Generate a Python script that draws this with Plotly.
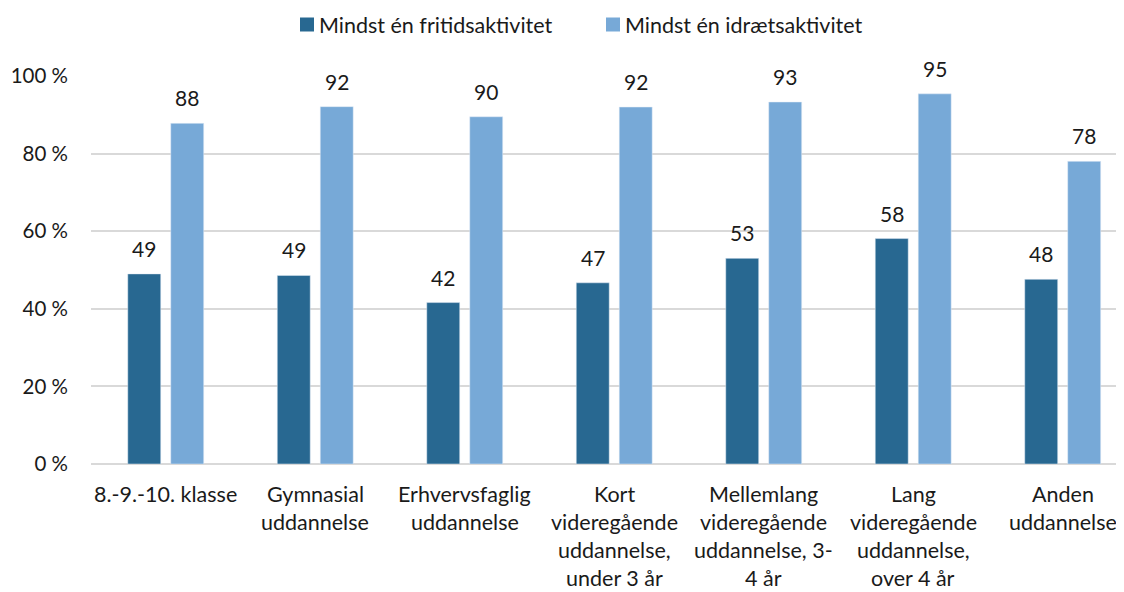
import plotly.graph_objects as go

categories = [
    "8.-9.-10. klasse",
    "Gymnasial uddannelse",
    "Erhvervsfaglig uddannelse",
    "Kort videregående uddannelse, under 3 år",
    "Mellemlang videregående uddannelse, 3-4 år",
    "Lang videregående uddannelse, over 4 år",
    "Anden uddannelse",
]
category_lines = [
    ["8.-9.-10. klasse"],
    ["Gymnasial", "uddannelse"],
    ["Erhvervsfaglig", "uddannelse"],
    ["Kort", "videregående", "uddannelse,", "under 3 år"],
    ["Mellemlang", "videregående", "uddannelse, 3-", "4 år"],
    ["Lang", "videregående", "uddannelse,", "over 4 år"],
    ["Anden", "uddannelse"],
]
series_names = ["Mindst én fritidsaktivitet", "Mindst én idrætsaktivitet"]
fritid = [49.0, 48.6, 41.6, 46.7, 53.0, 58.1, 47.6]
idraet = [87.8, 92.1, 89.5, 92.0, 93.3, 95.4, 78.0]
y_ticks = [0, 20, 40, 60, 80, 100]
y_tick_labels = ["0 %", "20 %", "40 %", "60 %", "80 %", "100 %"]

FONT = "Lato, 'Open Sans', sans-serif"
TXT = "#1a1a1a"
DARK = "#286891"
LIGHT = "#77A9D7"
colors = [DARK, LIGHT]

# page body has an 8px margin; compensate so the plot lands where intended
OFF = 8
W, H = 1124 - OFF, 592 - OFF
ML, MR, MT, MB = 91 - OFF, 0, 76 - OFF, 128
PW = W - ML - MR
PH = H - MT - MB


def px_x(px):
    return (px - OFF - ML) / PW


def px_y(py):
    return (H - MB - (py - OFF)) / PH


x_idx = list(range(len(categories)))

fig = go.Figure()
for name, vals, col in zip(series_names, (fritid, idraet), colors):
    fig.add_trace(go.Bar(x=x_idx, y=vals, name=name, marker_color=col,
                         hovertext=categories, showlegend=False))

annotations = []
# data labels
for vals, shift in ((fritid, -21.5), (idraet, 21.5)):
    for i, v in enumerate(vals):
        annotations.append(dict(
            x=i, y=v, xref="x", yref="y", text=f"{int(v + 0.5)}", showarrow=False,
            xshift=shift, yanchor="bottom", yshift=11,
            font=dict(family=FONT, size=21, color=TXT)))
# category labels
for i, lines in enumerate(category_lines):
    for j, line in enumerate(lines):
        annotations.append(dict(
            x=i, y=0, xref="x", yref="y", text=line, showarrow=False,
            yanchor="middle", yshift=-(30 + j * 28), borderpad=0,
            font=dict(family=FONT, size=21.5, color=TXT)))

# manual legend (marker square + text)
shapes = []
legend_marker_left = [300, 606]
for name, col, mx in zip(series_names, colors, legend_marker_left):
    shapes.append(dict(type="rect", xref="paper", yref="paper",
                       x0=px_x(mx), x1=px_x(mx + 14), y0=px_y(31.5), y1=px_y(17.5),
                       fillcolor=col, line=dict(width=0)))
    annotations.append(dict(x=px_x(mx + 17), y=px_y(24.5), xref="paper", yref="paper",
                            text=name, showarrow=False, xanchor="left", yanchor="middle",
                            font=dict(family=FONT, size=21.5, color=TXT)))

fig.update_layout(
    width=W, height=H,
    margin=dict(l=ML, r=MR, t=MT, b=MB, autoexpand=False),
    paper_bgcolor="white", plot_bgcolor="white",
    barmode="group", bargap=0.425, bargroupgap=0.233,
    font=dict(family=FONT, size=20, color=TXT),
    showlegend=False,
    xaxis=dict(range=[-0.5, 6.41], showticklabels=False, showgrid=False,
               zeroline=False, showline=False, ticks="", automargin=False),
    yaxis=dict(range=[0, 100], tickmode="array", tickvals=y_ticks, ticktext=y_tick_labels,
               gridcolor="#D9D9D9", gridwidth=1.5, zeroline=True,
               zerolinecolor="#D9D9D9", zerolinewidth=1.5, showline=False,
               ticklabelstandoff=22, automargin=False,
               tickfont=dict(family=FONT, size=20.5, color=TXT)),
    annotations=annotations,
    shapes=shapes,
)

fig.write_html("out.html")
